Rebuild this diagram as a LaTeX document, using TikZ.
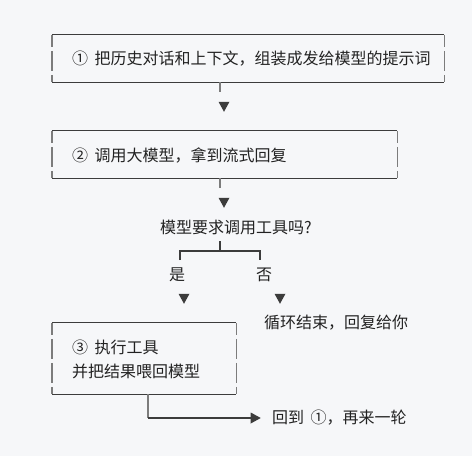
\documentclass[tikz,border=0pt]{standalone}
\usepackage{fontspec}
\setmainfont{Noto Sans CJK SC}
\usetikzlibrary{shapes.geometric}

\definecolor{bgcol}{HTML}{F6F7F9}
\definecolor{edgecol}{HTML}{3C3C3C}
\definecolor{sidecol}{HTML}{7C7C7C}
\definecolor{txtcol}{HTML}{222222}

\newcommand{\numgap}{\hspace{0.4em}}

\tikzset{
  box/.style = {draw=none, inner sep=0pt},
  edge/.style = {draw=edgecol, line width=1.2pt},
  side/.style = {draw=sidecol, line width=1.4pt, dash pattern=on 20pt off 4pt, dash phase=8pt},
  stub/.style = {draw=sidecol, line width=1.4pt},
  tip/.style = {fill=edgecol, draw=none, isosceles triangle, isosceles triangle stretches,
                inner sep=0pt, minimum width=11pt, minimum height=10pt},
  lbl/.style = {text=txtcol, font=\fontsize{16}{24}\selectfont, inner sep=0pt},
}

\begin{document}
\begin{tikzpicture}[x=1pt, y=-1pt]

% Background and size of the picture
\fill[bgcol] (0,0) rectangle (472,456);
\useasboundingbox (0,0) rectangle (472,456);

% Step 1 box
\node[box, minimum width=392pt, minimum height=47pt] (box1) at (248,58.5) {};
\draw[edge] (box1.north west) -- (box1.north east);
\draw[edge] (box1.south west) -- (box1.south east);
\draw[side] (box1.north west) -- (box1.south west);
\draw[side] (box1.north east) -- (box1.south east);
\node[lbl, anchor=west] (lbl1) at (72,59) {①\numgap 把历史对话和上下文，组装成发给模型的提示词};

% Down to step 2
\node[tip, shape border rotate=-90] (tip1) at (224,105) {};
\draw[stub] (box1.south -| 220,0) -- ++(0,10);

% Step 2 box
\node[box, minimum width=345pt, minimum height=47pt] (box2) at (224.5,154.5) {};
\draw[edge] (box2.north west) -- (box2.north east);
\draw[edge] (box2.south west) -- (box2.south east);
\draw[side] (box2.north west) -- (box2.south west);
\draw[side] (box2.north east) -- (box2.south east);
\node[lbl, anchor=west] (lbl2) at (72,155) {②\numgap 调用大模型，拿到流式回复};

% Down to the question
\node[tip, shape border rotate=-90] (tip2) at (224,201) {};
\draw[stub] (box2.south -| 220,0) -- ++(0,10);

% Question and its two branches
\node[lbl] (ask) at (236,227) {模型要求调用工具吗?};
\coordinate (fork) at (220,251);
\coordinate (yesend) at (180,260);
\coordinate (noend) at (260,260);
\draw[edge] (fork |- 0,241) -- (fork);
\draw[edge] (yesend) |- (fork) -| (noend);

\node[lbl] (yes) at (177,275) {是};
\node[lbl] (no) at (264,275) {否};
\node[tip, shape border rotate=-90] (tipyes) at (184,297) {};
\node[tip, shape border rotate=-90] (tipno) at (280,297) {};

% End of the loop
\node[lbl, anchor=west] (done) at (264,323) {循环结束，回复给你};

% Step 3 box
\node[box, minimum width=184pt, minimum height=71pt] (box3) at (144,358.5) {};
\draw[edge] (box3.north west) -- (box3.north east);
\draw[edge] (box3.south west) -- (box3.south east);
\draw[side] (box3.north west) -- (box3.south west);
\draw[side] (box3.north east) -- (box3.south east);
\node[lbl, anchor=west, align=left] (lbl3) at (72,359) {③\numgap 执行工具\\并把结果喂回模型};

% Back to step 1
\node[tip] (tipback) at (254,418) {};
\node[lbl, anchor=west] (again) at (272,418) {回到\numgap ①，再来一轮};
\coordinate (turn) at (148,418);
\draw[stub] (box3.south -| turn) -- (turn);
\draw[edge] (turn) -- (tipback.west);

\end{tikzpicture}
\end{document}
